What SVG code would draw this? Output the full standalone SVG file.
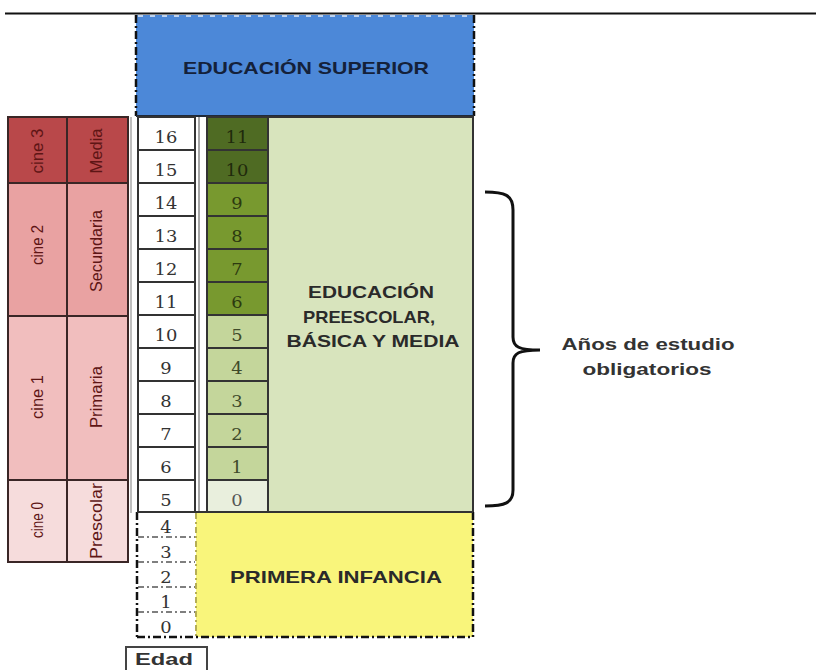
<svg xmlns="http://www.w3.org/2000/svg" width="816" height="670" viewBox="0 0 816 670">
<defs>
<style>
.lbl{font-family:"Liberation Sans",Arial,sans-serif;font-weight:bold;font-size:17px;text-anchor:middle;}
.num{font-family:"DejaVu Serif","Liberation Serif",serif;font-size:16px;text-anchor:middle;}
.vt{font-family:"Liberation Sans",Arial,sans-serif;font-size:17px;fill:#5e1515;text-anchor:middle;}
.cell{stroke:#333;stroke-width:2;}
.rcell{stroke:#3a2626;stroke-width:2;}
.dd{fill:none;stroke:#111;stroke-width:2.5;stroke-dasharray:8 3 2 3;}
.dl{fill:none;stroke:#555;stroke-width:1.5;stroke-dasharray:6 3 2 3;}
</style>
</defs>
<rect x="0" y="0" width="816" height="670" fill="#ffffff"/>
<line x1="5" y1="13.5" x2="816" y2="13.5" stroke="#111" stroke-width="2"/>

<g id="educacion-superior">
<rect x="136" y="15" width="338" height="101" fill="#4C88D8"/>
<line x1="138" y1="16" x2="472" y2="16" stroke="#e4ecf8" stroke-width="1.5" stroke-dasharray="5 7"/>
<line x1="136" y1="15" x2="136" y2="116" class="dd"/>
<line x1="474" y1="15" x2="474" y2="116" class="dd"/>
<line x1="136" y1="116" x2="474" y2="116" stroke="#1f2a3a" stroke-width="2"/>
<text class="lbl" x="306" y="74" fill="#14213a" textLength="246" lengthAdjust="spacingAndGlyphs">EDUCACIÓN SUPERIOR</text>
</g>

<g id="cine-columns">
<rect class="rcell" x="8" y="117" width="59" height="66" fill="#B9484A"/>
<rect class="rcell" x="67" y="117" width="61" height="66" fill="#B9484A"/>
<rect class="rcell" x="8" y="183" width="59" height="133" fill="#E9A2A2"/>
<rect class="rcell" x="67" y="183" width="61" height="133" fill="#E9A2A2"/>
<rect class="rcell" x="8" y="316" width="59" height="164" fill="#F1BEBE"/>
<rect class="rcell" x="67" y="316" width="61" height="164" fill="#F1BEBE"/>
<rect class="rcell" x="8" y="480" width="59" height="82" fill="#F6DCDC"/>
<rect class="rcell" x="67" y="480" width="61" height="82" fill="#F6DCDC"/>
<text class="vt" transform="translate(37,151) rotate(-90)" y="6" textLength="45" lengthAdjust="spacingAndGlyphs">cine 3</text>
<text class="vt" transform="translate(96,151) rotate(-90)" y="6" textLength="45" lengthAdjust="spacingAndGlyphs">Media</text>
<text class="vt" transform="translate(37,245) rotate(-90)" y="6" textLength="40" lengthAdjust="spacingAndGlyphs">cine 2</text>
<text class="vt" transform="translate(96,251) rotate(-90)" y="6" textLength="82" lengthAdjust="spacingAndGlyphs">Secundaria</text>
<text class="vt" transform="translate(37,397) rotate(-90)" y="6" textLength="44" lengthAdjust="spacingAndGlyphs">cine 1</text>
<text class="vt" transform="translate(96,397) rotate(-90)" y="6" textLength="62" lengthAdjust="spacingAndGlyphs">Primaria</text>
<text class="vt" transform="translate(37,520) rotate(-90)" y="6" textLength="36" lengthAdjust="spacingAndGlyphs">cine 0</text>
<text class="vt" transform="translate(96,521) rotate(-90)" y="6" textLength="76" lengthAdjust="spacingAndGlyphs">Prescolar</text>
</g>

<g id="gridlines">
<line x1="131" y1="117" x2="131" y2="513" stroke="#aaa" stroke-width="1.5"/>
<line x1="199" y1="117" x2="199" y2="513" stroke="#888" stroke-width="1.5"/>
</g>

<g id="edad-column">
<rect class="cell" x="138" y="117" width="57" height="33" fill="#fff"/>
<rect class="cell" x="138" y="150" width="57" height="33" fill="#fff"/>
<rect class="cell" x="138" y="183" width="57" height="33" fill="#fff"/>
<rect class="cell" x="138" y="216" width="57" height="33" fill="#fff"/>
<rect class="cell" x="138" y="249" width="57" height="33" fill="#fff"/>
<rect class="cell" x="138" y="282" width="57" height="33" fill="#fff"/>
<rect class="cell" x="138" y="315" width="57" height="33" fill="#fff"/>
<rect class="cell" x="138" y="348" width="57" height="33" fill="#fff"/>
<rect class="cell" x="138" y="381" width="57" height="33" fill="#fff"/>
<rect class="cell" x="138" y="414" width="57" height="33" fill="#fff"/>
<rect class="cell" x="138" y="447" width="57" height="33" fill="#fff"/>
<rect class="cell" x="138" y="480" width="57" height="32" fill="#fff"/>
<g transform="matrix(1.12,0,0,1,166,0)" fill="#333">
<text class="num" x="0" y="143">16</text>
<text class="num" x="0" y="176">15</text>
<text class="num" x="0" y="209">14</text>
<text class="num" x="0" y="242">13</text>
<text class="num" x="0" y="275">12</text>
<text class="num" x="0" y="308">11</text>
<text class="num" x="0" y="341">10</text>
<text class="num" x="0" y="374">9</text>
<text class="num" x="0" y="407">8</text>
<text class="num" x="0" y="440">7</text>
<text class="num" x="0" y="473">6</text>
<text class="num" x="0" y="506">5</text>
</g>
</g>

<g id="grado-column">
<rect class="cell" x="207" y="117" width="61" height="33" fill="#4F6B23"/>
<rect class="cell" x="207" y="150" width="61" height="33" fill="#4F6B23"/>
<rect class="cell" x="207" y="183" width="61" height="33" fill="#78992F"/>
<rect class="cell" x="207" y="216" width="61" height="33" fill="#78992F"/>
<rect class="cell" x="207" y="249" width="61" height="33" fill="#78992F"/>
<rect class="cell" x="207" y="282" width="61" height="33" fill="#78992F"/>
<rect class="cell" x="207" y="315" width="61" height="33" fill="#C4D69B"/>
<rect class="cell" x="207" y="348" width="61" height="33" fill="#C4D69B"/>
<rect class="cell" x="207" y="381" width="61" height="33" fill="#C4D69B"/>
<rect class="cell" x="207" y="414" width="61" height="33" fill="#C4D69B"/>
<rect class="cell" x="207" y="447" width="61" height="33" fill="#C4D69B"/>
<rect class="cell" x="207" y="480" width="61" height="32" fill="#E9EFDD"/>
<g transform="matrix(1.12,0,0,1,237,0)">
<text class="num" x="0" y="143" fill="#1f2a0c">11</text>
<text class="num" x="0" y="176" fill="#1f2a0c">10</text>
<text class="num" x="0" y="209" fill="#2c3a10">9</text>
<text class="num" x="0" y="242" fill="#2c3a10">8</text>
<text class="num" x="0" y="275" fill="#2c3a10">7</text>
<text class="num" x="0" y="308" fill="#2c3a10">6</text>
<text class="num" x="0" y="341" fill="#3f4a2a">5</text>
<text class="num" x="0" y="374" fill="#3f4a2a">4</text>
<text class="num" x="0" y="407" fill="#3f4a2a">3</text>
<text class="num" x="0" y="440" fill="#3f4a2a">2</text>
<text class="num" x="0" y="473" fill="#3f4a2a">1</text>
<text class="num" x="0" y="506" fill="#555">0</text>
</g>
</g>

<g id="educacion-basica">
<rect class="cell" x="268" y="117" width="205" height="395" fill="#D8E4BD"/>
<text class="lbl" x="371" y="298" fill="#2a2a2a" textLength="126" lengthAdjust="spacingAndGlyphs">EDUCACIÓN</text>
<text class="lbl" x="369" y="323" fill="#2a2a2a" textLength="132" lengthAdjust="spacingAndGlyphs">PREESCOLAR,</text>
<text class="lbl" x="373" y="347" fill="#2a2a2a" textLength="173" lengthAdjust="spacingAndGlyphs">BÁSICA Y MEDIA</text>
</g>

<g id="primera-infancia">
<rect x="196" y="512" width="277" height="125" fill="#F9F57B"/>
<line x1="196" y1="513" x2="196" y2="637" stroke="#B5AE55" stroke-width="2" stroke-dasharray="6 3 2 3"/>
<line x1="473" y1="512" x2="473" y2="637" class="dd"/>
<line x1="137" y1="637" x2="473" y2="637" class="dd"/>
<line x1="137" y1="512" x2="137" y2="637" class="dd"/>
<line x1="137" y1="512" x2="473" y2="512" stroke="#333" stroke-width="2"/>
<text class="lbl" x="336" y="583" fill="#2a2a2a" textLength="212" lengthAdjust="spacingAndGlyphs">PRIMERA INFANCIA</text>
</g>

<g id="edad-infancia">
<line x1="138" y1="537" x2="195" y2="537" class="dl"/>
<line x1="138" y1="562" x2="195" y2="562" class="dl"/>
<line x1="138" y1="587" x2="195" y2="587" class="dl"/>
<line x1="138" y1="612" x2="195" y2="612" class="dl"/>
<g transform="matrix(1.12,0,0,1,166,0)" fill="#333">
<text class="num" x="0" y="533">4</text>
<text class="num" x="0" y="558">3</text>
<text class="num" x="0" y="583">2</text>
<text class="num" x="0" y="608">1</text>
<text class="num" x="0" y="633">0</text>
</g>
</g>

<g id="edad-label">
<rect x="126" y="647" width="81" height="30" fill="#fff" stroke="#444" stroke-width="2"/>
<text class="lbl" x="164" y="665" fill="#333" font-size="16" textLength="58" lengthAdjust="spacingAndGlyphs">Edad</text>
</g>

<g id="connectors">
<path d="M485,192 C505,192 513,195 513,210 L513,337 C513,347 519,350 540,350 M540,350 C519,350 513,353 513,363 L513,490 C513,503 505,506 485,506" fill="none" stroke="#111" stroke-width="3"/>
</g>

<g id="anos-obligatorios">
<text class="lbl" x="648" y="350" fill="#333" textLength="173" lengthAdjust="spacingAndGlyphs">Años de estudio</text>
<text class="lbl" x="647" y="375" fill="#333" textLength="129" lengthAdjust="spacingAndGlyphs">obligatorios</text>
</g>
</svg>
